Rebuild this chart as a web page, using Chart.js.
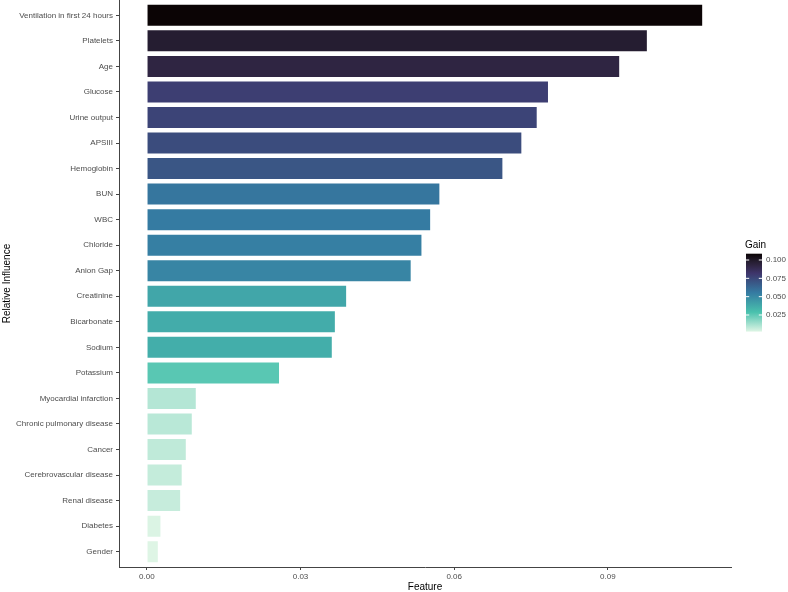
<!DOCTYPE html>
<html><head><meta charset="utf-8">
<script src="https://cdn.jsdelivr.net/npm/chart.js@4.4.1/dist/chart.umd.min.js"></script>
<style>html,body{margin:0;padding:0;background:#fff}#wrap{width:788px;height:592px}</style>
</head><body><div id="wrap"><canvas id="c" width="788" height="592"></canvas></div>
<script>
// ---- data ----
const categories = ["Ventilation in first 24 hours","Platelets","Age","Glucose","Urine output","APSIII","Hemoglobin","BUN","WBC","Chloride","Anion Gap","Creatinine","Bicarbonate","Sodium","Potassium","Myocardial infarction","Chronic pulmonary disease","Cancer","Cerebrovascular disease","Renal disease","Diabetes","Gender"];
const influence = [0.1086,0.0978,0.0924,0.0785,0.0763,0.0733,0.0696,0.0573,0.0555,0.0538,0.0517,0.0391,0.0369,0.0363,0.0260,0.00975,0.00897,0.0078,0.0070,0.0067,0.00285,0.00234];
const gain = [0.1086,0.0978,0.0924,0.0785,0.0763,0.0733,0.0696,0.0573,0.0555,0.0538,0.0517,0.0391,0.0369,0.0363,0.0260,0.00975,0.00897,0.0078,0.0070,0.0067,0.00285,0.00234];
const xTickValues = [0, 0.03, 0.06, 0.09];
const xTickLabels = ["0.00","0.03","0.06","0.09"];
const legendTickValues = [0.025, 0.05, 0.075, 0.1];
const legendTickLabels = ["0.025","0.050","0.075","0.100"];

// ---- palette (mako, dark = high) ----
const makoStops = [[0,"#0B0405"],[0.10,"#251D30"],[0.152,"#2F2542"],[0.25,"#3E356B"],[0.5,"#357BA2"],[0.75,"#49C1AD"],[1,"#DEF5E5"]];
function hex2rgb(h){return [parseInt(h.substr(1,2),16),parseInt(h.substr(3,2),16),parseInt(h.substr(5,2),16)];}
function mako(t){
  t=Math.max(0,Math.min(1,t));
  for(let i=1;i<makoStops.length;i++){
    if(t<=makoStops[i][0]){
      const [t0,c0]=makoStops[i-1],[t1,c1]=makoStops[i];
      const f=(t-t0)/(t1-t0),a=hex2rgb(c0),b=hex2rgb(c1);
      return `rgb(${a.map((v,k)=>Math.round(v+(b[k]-v)*f)).join(',')})`;
    }
  }
  return makoStops[makoStops.length-1][1];
}
const gMax=Math.max(...gain), gMin=Math.min(...gain);
const colorOf = g => mako((gMax-g)/(gMax-gMin));

const xMaxData=Math.max(...influence), xMinData=0;
const xPad=(xMaxData-xMinData)*0.05;

const FONT="'Liberation Sans', Arial, sans-serif";

const colorbar={
  id:'colorbar',
  afterDraw(chart){
    const ctx=chart.ctx;
    const x=746,w=16,top=253.7,h=77.9;
    const grad=ctx.createLinearGradient(0,top,0,top+h);
    makoStops.forEach(s=>grad.addColorStop(s[0],s[1]));
    ctx.save();
    ctx.fillStyle=grad;
    ctx.fillRect(x,top,w,h);
    ctx.fillStyle='#000';
    ctx.font=`10px ${FONT}`;
    ctx.textAlign='left';ctx.textBaseline='alphabetic';
    ctx.fillText('Gain',745,248);
    ctx.font=`8px ${FONT}`;
    ctx.textBaseline='middle';
    legendTickValues.forEach((v,i)=>{
      const y=top+(gMax-v)/(gMax-gMin)*h;
      ctx.strokeStyle='#fff';ctx.lineWidth=1;
      ctx.beginPath();
      ctx.moveTo(x,y);ctx.lineTo(x+3.2,y);
      ctx.moveTo(x+w-3.2,y);ctx.lineTo(x+w,y);
      ctx.stroke();
      ctx.fillStyle='#4D4D4D';
      ctx.fillText(legendTickLabels[i],766,y);
    });
    ctx.restore();
  }
};

new Chart(document.getElementById('c'),{
  type:'bar',
  data:{
    datasets:[{
      data:influence.map((v,i)=>({x:v,y:i})),
      backgroundColor:gain.map(colorOf),
      borderColor:'rgba(255,255,255,0.35)',
      borderWidth:1,
      barPercentage:0.9,
      categoryPercentage:1
    }]
  },
  options:{
    indexAxis:'y',
    responsive:false,
    animation:false,
    devicePixelRatio:1,
    layout:{padding:{left:0,right:57,top:0,bottom:0}},
    plugins:{legend:{display:false},tooltip:{enabled:false}},
    scales:{
      x:{
        type:'linear',
        min:xMinData-xPad,max:xMaxData+xPad,
        afterBuildTicks(s){s.ticks=xTickValues.map(v=>({value:v}));},
        afterFit(s){s.height=25;s.paddingLeft=0;s.paddingRight=0;},
        ticks:{callback:(v)=>xTickLabels[xTickValues.indexOf(v)],color:'#4D4D4D',font:{family:FONT,size:8},padding:2,maxRotation:0},
        grid:{drawOnChartArea:false,drawTicks:true,tickLength:3,color:'#444',lineWidth:1},
        border:{display:true,color:'#444',width:1},
        title:{display:true,text:'Feature',color:'#000',font:{family:FONT,size:10,lineHeight:1},padding:{top:0,bottom:0}}
      },
      y:{
        type:'linear',
        reverse:true,
        offset:false,
        min:-0.6,max:categories.length-1+0.6,
        afterBuildTicks(s){s.ticks=categories.map((_,i)=>({value:i}));},
        afterFit(s){s.width=119;s.paddingTop=0;s.paddingBottom=0;},
        ticks:{callback:(v)=>categories[v],autoSkip:false,color:'#4D4D4D',font:{family:FONT,size:8},padding:3},
        grid:{offset:false,drawOnChartArea:false,drawTicks:true,tickLength:3,color:'#444',lineWidth:1},
        border:{display:true,color:'#444',width:1},
        title:{display:true,text:'Relative Influence',color:'#000',font:{family:FONT,size:10,lineHeight:1},padding:{top:2,bottom:0}}
      }
    }
  },
  plugins:[colorbar]
});
</script></body></html>
